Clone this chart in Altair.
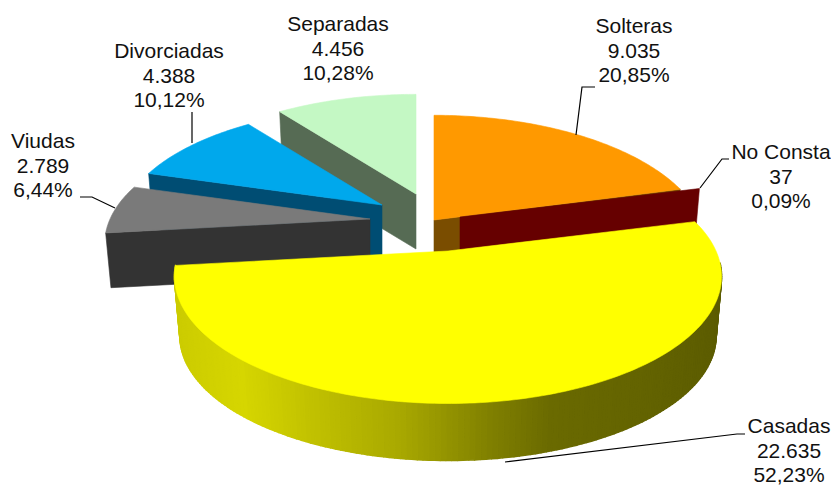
import math
import altair as alt
import pandas as pd

# ---- data
categories = ["Solteras", "No Consta", "Casadas", "Viudas", "Divorciadas", "Separadas"]
values = [9035, 37, 22635, 2789, 4388, 4456]
value_labels = ["9.035", "37", "22.635", "2.789", "4.388", "4.456"]
pct_labels = ["20,85%", "0,09%", "52,23%", "6,44%", "10,12%", "10,28%"]

# ---- styling / layout (pie perspective, explode offsets, colours)
RX, RY, K = 268.0, 122.0, 0.20
SHRINK = 0.98
apex_x = [434, 460, 448, 370, 382, 416]
apex_y = [220, 217, 251, 219, 205, 194]
radius = [1.0, 0.97, 1.0, 0.97, 0.96, 0.98]
ry_scale = [1.03, 1.0, 1.0, 1.0, 1.0, 1.0]
depth = [55, 55, 60, 55, 55, 55]
top_colors = ["#ff9900", "#990000", "#ffff00", "#7a7a7a", "#00a8ec", "#c4f8c4"]
wall_colors = ["#7a4d00", "#660000", "#808000", "#333333", "#004d73", "#566b54"]
draw_order = [5, 0, 1, 4, 3, 2]
side_stops = [(175, (204, 204, 0)), (240, (214, 214, 0)), (300, (196, 196, 0)), (400, (168, 168, 0)),
              (490, (128, 128, 0)), (550, (106, 106, 0)), (650, (99, 99, 0)), (720, (92, 92, 0))]

label_x = [634, 781, 789, 43, 169, 338]
label_y = [33, 159, 433, 148, 58, 31]
LINE = 24.7
leaders = [
    [(576, 135), (582, 87), (595, 87)],
    [(700, 188), (722, 159), (729, 159)],
    [(505, 462), (737, 434), (745, 434)],
    [(80, 197), (92, 197), (115, 208)],
    [(192, 112), (192, 143)],
]

total = sum(values)


def side_color(x):
    for (x0, c0), (x1, c1) in zip(side_stops, side_stops[1:]):
        if x <= x1:
            t = max(0.0, (x - x0) / (x1 - x0))
            return "#%02x%02x%02x" % tuple(round(a + (b - a) * t) for a, b in zip(c0, c1))
    return "#%02x%02x%02x" % side_stops[-1][1]


def rim(i, deg):
    a = math.radians(deg)
    u, v = math.cos(a), math.sin(a)
    s = radius[i] / (1 + K * v)
    return apex_x[i] + RX * u * s, apex_y[i] - RY * ry_scale[i] * v * s


def lower(i, p):
    return apex_x[i] + SHRINK * (p[0] - apex_x[i]), apex_y[i] + SHRINK * (p[1] - apex_y[i]) + depth[i]


# sweep clockwise from 12 o'clock, in the order of the categories
spans = []
angle = 90.0
for val in values:
    sweep = 360.0 * val / total
    spans.append((angle, angle - sweep))
    angle -= sweep

rows = []
side_rows = []
top_rows = []
pid = 0


def add(points, color, target):
    global pid
    for n, (x, y) in enumerate(points + points[:1]):
        target.append({"pid": pid, "n": n, "x": x, "y": y, "col": color})
    pid += 1


for i in draw_order:
    start, end = spans[i]
    steps = max(2, int(abs(start - end)))
    degs = [start + (end - start) * k / steps for k in range(steps + 1)]
    arc = [rim(i, d) for d in degs]
    apex = (apex_x[i], apex_y[i])
    name = categories[i]
    if name == "Casadas":
        for d, p, q in zip(degs, arc, arc[1:]):
            # only the front of the rim can be seen
            if math.sin(math.radians(d)) < -0.08:
                add([p, q, lower(i, q), lower(i, p)], side_color((p[0] + q[0]) / 2), side_rows)
        add([apex] + arc, top_colors[i], top_rows)
        continue
    edge = arc[-1] if name in ("Solteras", "No Consta") else arc[0]
    add([apex, edge, lower(i, edge), lower(i, apex)], wall_colors[i], rows)
    if name != "No Consta":
        add([apex] + arc, top_colors[i], rows)

text_rows = []
for i, c in enumerate(categories):
    for k, t in enumerate([c, value_labels[i], pct_labels[i]]):
        text_rows.append({"x": label_x[i], "y": label_y[i] + k * LINE, "t": t})
texts = pd.DataFrame(text_rows)

lead_rows = []
for j, pts in enumerate(leaders):
    for n, (x, y) in enumerate(pts):
        lead_rows.append({"lid": j, "n": n, "x": x, "y": y})
leads = pd.DataFrame(lead_rows)

X = alt.X("x:Q", scale=alt.Scale(domain=[8, 831], nice=False, zero=False), axis=None)
Y = alt.Y("y:Q", scale=alt.Scale(domain=[485, 8], nice=False, zero=False), axis=None)


def shapes(table, width):
    return alt.Chart(pd.DataFrame(table)).mark_line(strokeWidth=width, strokeJoin="round").encode(
        x=X, y=Y, detail="pid:N", order="n:Q",
        fill=alt.Fill("col:N", scale=None),
        stroke=alt.Stroke("col:N", scale=None),
    )


lines = alt.Chart(leads).mark_line(color="#000000", strokeWidth=1.2).encode(
    x=X, y=Y, detail="lid:N", order="n:Q"
)
labels = alt.Chart(texts).mark_text(
    font="Liberation Sans", fontSize=21, color="#111111", align="center", baseline="alphabetic"
).encode(x=X, y=Y, text="t:N")

chart = (
    alt.layer(shapes(rows, 0.6), shapes(side_rows, 1.6), shapes(top_rows, 0.6), lines, labels)
    .properties(width=823, height=477, padding=0, autosize=alt.AutoSizeParams(type="none"))
    .configure_view(stroke=None)
)
chart.save("out.html", embed_options={"renderer": "svg", "actions": False})
